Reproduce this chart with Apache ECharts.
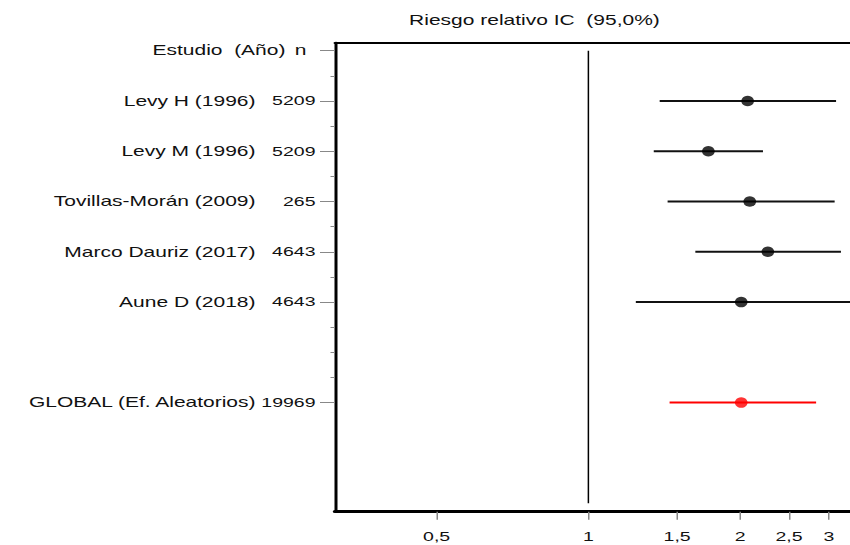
<!DOCTYPE html>
<html><head><meta charset="utf-8">
<script src="https://cdn.jsdelivr.net/npm/echarts@6/dist/echarts.min.js"></script>
<style>
html,body{margin:0;padding:0;background:#fff;overflow:hidden;width:850px;height:545px}
#c{width:567px;height:545px;transform:scaleX(1.5);transform-origin:0 0}
</style></head><body><div id="c"></div>
<script>
// ---- data ----
const studies = ['Levy H (1996)', 'Levy M (1996)', 'Tovillas-Morán (2009)', 'Marco Dauriz (2017)', 'Aune D (2018)', 'GLOBAL (Ef. Aleatorios)'];
const sampleSizes = ['5209', '5209', '265', '4643', '4643', '19969'];
const rowPositions = [2, 4, 6, 8, 10, 14];
const rr = [2.07, 1.73, 2.09, 2.27, 2.01, 2.01];
const ciLow = [1.385, 1.348, 1.436, 1.63, 1.242, 1.449];
const ciHigh = [3.10, 2.22, 3.08, 3.17, 3.4, 2.83];
const xTickValues = [0.5, 1, 1.5, 2, 2.5, 3];
const xTickLabels = ['0,5', '1', '1,5', '2', '2,5', '3'];
const headerText = 'Estudio  (Año)';
const headerN = 'n';
const headerRow = 0;
const minorRows = [1, 3, 5, 7, 9, 11, 12, 13];
const refValue = 1;
const refSpan = [0, 18];
const titleText = 'Riesgo relativo IC  (95,0%)';
const globalIndex = 5;

// ---- chart ----
const L = v => Math.log10(v);
const chart = echarts.init(document.getElementById('c'), null, {renderer: 'svg'});
const FONT = "'Liberation Sans', Arial, sans-serif";
const labelRows = [headerRow].concat(rowPositions);

const ciData = studies.map((s, i) => [L(ciLow[i]), L(ciHigh[i]), rowPositions[i], i === globalIndex ? 1 : 0]);
const pointData = studies.map((s, i) => ({
  value: [L(rr[i]), rowPositions[i]],
  itemStyle: {color: i === globalIndex ? '#ff0000' : '#000'}
}));

const yCommon = {type: 'value', inverse: true, min: -0.32, max: 18.34, splitLine: {show: false}, position: 'left'};
const xCommon = {type: 'value', min: -0.5027, max: 0.52, splitLine: {show: false}};

chart.setOption({
  animation: false,
  backgroundColor: '#fff',
  textStyle: {fontFamily: FONT},
  grid: {left: 223.33, top: 42.7, width: 345.9, height: 469, containLabel: false},
  graphic: [{
    type: 'text', x: 356.3, y: 20,
    style: {text: titleText, textAlign: 'center', textVerticalAlign: 'middle', fontSize: 14, fontFamily: FONT, fill: '#111'}
  }],
  xAxis: [
    Object.assign({}, xCommon, {
      position: 'bottom',
      axisLine: {show: true, onZero: false, lineStyle: {color: '#000', width: 3}},
      axisTick: {show: true, customValues: xTickValues.map(L), length: 8, lineStyle: {color: '#888', width: 1}},
      axisLabel: {
        show: true, customValues: xTickValues.map(L), margin: 18, fontSize: 13, color: '#111', fontFamily: FONT,
        formatter: v => {
          let best = 0;
          xTickValues.forEach((t, i) => { if (Math.abs(L(t) - v) < Math.abs(L(xTickValues[best]) - v)) best = i; });
          return xTickLabels[best];
        }
      }
    }),
    Object.assign({}, xCommon, {
      position: 'top',
      axisLine: {show: true, onZero: false, lineStyle: {color: '#000', width: 2}},
      axisTick: {show: false}, axisLabel: {show: false}
    })
  ],
  yAxis: [
    Object.assign({}, yCommon, {
      axisLine: {show: true, onZero: false, lineStyle: {color: '#000', width: 2}},
      axisTick: {show: true, customValues: labelRows, length: 10, lineStyle: {color: '#888', width: 1}},
      axisLabel: {
        show: true, customValues: labelRows, margin: 13, color: '#111', fontFamily: FONT,
        formatter: v => {
          if (Math.abs(v - headerRow) < 1e-6) return '{h|' + headerText + '}{hn|' + headerN + '}';
          const i = rowPositions.findIndex(r => Math.abs(r - v) < 1e-6);
          if (i < 0) return '';
          return '{a|' + studies[i] + '}{b|' + sampleSizes[i] + '}';
        },
        rich: {
          h: {fontSize: 14, color: '#111', fontFamily: FONT},
          hn: {fontSize: 14, color: '#111', fontFamily: FONT, width: 20, align: 'center'},
          a: {fontSize: 14, color: '#111', fontFamily: FONT},
          b: {fontSize: 13, color: '#111', fontFamily: FONT, width: 40, align: 'right'}
        }
      }
    }),
    Object.assign({}, yCommon, {
      axisLine: {show: false, onZero: false},
      axisTick: {show: true, customValues: minorRows, length: 3, lineStyle: {color: '#888', width: 1}},
      axisLabel: {show: false}
    })
  ],
  series: [
    {
      type: 'line', xAxisIndex: 0, yAxisIndex: 0, symbol: 'none',
      data: [[L(refValue), refSpan[0]], [L(refValue), refSpan[1]]],
      lineStyle: {color: '#000', width: 1}
    },
    {
      type: 'custom', xAxisIndex: 0, yAxisIndex: 0, clip: false,
      encode: {x: [0, 1], y: 2},
      data: ciData,
      renderItem: (params, api) => {
        const p1 = api.coord([api.value(0), api.value(2)]);
        const p2 = api.coord([api.value(1), api.value(2)]);
        return {
          type: 'line',
          shape: {x1: p1[0], y1: p1[1], x2: p2[0], y2: p2[1]},
          style: {stroke: api.value(3) ? '#ff0000' : '#111', lineWidth: 2}
        };
      }
    },
    {
      type: 'scatter', xAxisIndex: 0, yAxisIndex: 0,
      symbol: 'circle', symbolSize: [8.5, 10.5],
      data: pointData, z: 5
    }
  ]
});
</script></body></html>
